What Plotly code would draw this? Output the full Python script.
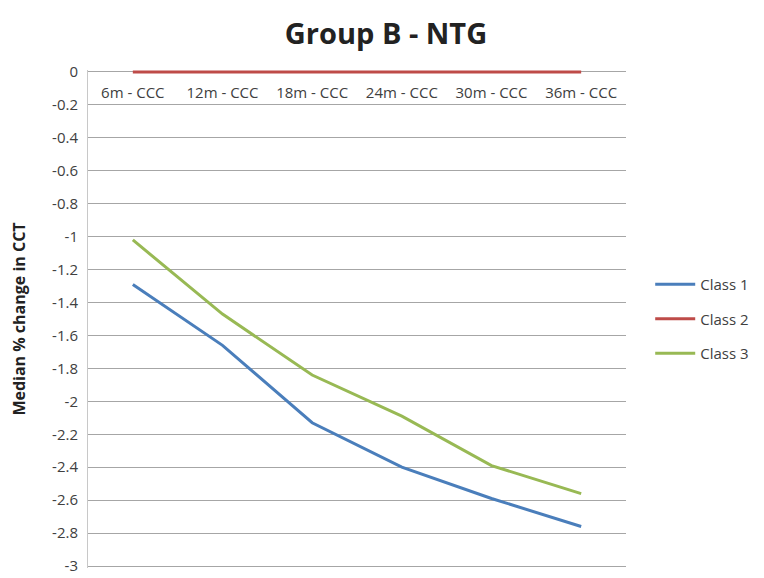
import plotly.graph_objects as go

categories = ["6m - CCC", "12m - CCC", "18m - CCC", "24m - CCC", "30m - CCC", "36m - CCC"]
class1 = [-1.29, -1.66, -2.13, -2.40, -2.59, -2.76]
class2 = [0, 0, 0, 0, 0, 0]
class3 = [-1.02, -1.47, -1.84, -2.09, -2.39, -2.56]
yticks = [0, -0.2, -0.4, -0.6, -0.8, -1, -1.2, -1.4, -1.6, -1.8, -2, -2.2, -2.4, -2.6, -2.8, -3]
ytick_text = ["0", "-0.2", "-0.4", "-0.6", "-0.8", "-1", "-1.2", "-1.4", "-1.6", "-1.8",
              "-2", "-2.2", "-2.4", "-2.6", "-2.8", "-3"]

font_family = "Open Sans, Liberation Sans, sans-serif"

fig = go.Figure()
series = [("Class 1", class1, "#4a7ebb"), ("Class 2", class2, "#be4b48"), ("Class 3", class3, "#98b954")]
for name, vals, col in series:
    fig.add_trace(go.Scatter(x=categories, y=vals, mode="lines", name=name,
                             legendgroup=name, line=dict(color=col, width=3),
                             cliponaxis=False))

fig.update_layout(
    width=756, height=570,
    paper_bgcolor="white", plot_bgcolor="white",
    margin=dict(l=80, r=129, t=62, b=10),
    title=dict(text="<b>Group B - NTG</b>", x=0.5, xanchor="center", y=0.955, yanchor="middle",
               font=dict(family=font_family, size=29, color="#222222")),
    font=dict(family=font_family, size=12, color="#404040"),
    showlegend=True,
    legend=dict(x=1.045, xanchor="left", y=0.5, yanchor="middle", itemwidth=40,
                font=dict(size=15, color="#404040"), tracegroupgap=12,
                bgcolor="rgba(0,0,0,0)"),
    xaxis=dict(type="category", range=[-0.5, 5.5], side="bottom", anchor="free", position=0.975,
               tickfont=dict(size=15, color="#404040"), showgrid=False, showline=False,
               ticks="", zeroline=False, fixedrange=True, automargin=False),
    yaxis=dict(range=[-3.012, 0.012], tickvals=yticks, ticktext=ytick_text,
               ticklabeloverflow="allow", automargin=False,
               tickfont=dict(size=15, color="#404040"), showgrid=True, gridcolor="#a6a6a6",
               gridwidth=1, zeroline=False, showline=True, linecolor="#c8c8c8",
               ticks="outside", ticklen=6, tickcolor="rgba(0,0,0,0)",
               title=dict(text="<b>Median % change in CCT</b>", font=dict(size=16, color="#222222"),
                          standoff=22)),
)

fig.write_html("out.html")
